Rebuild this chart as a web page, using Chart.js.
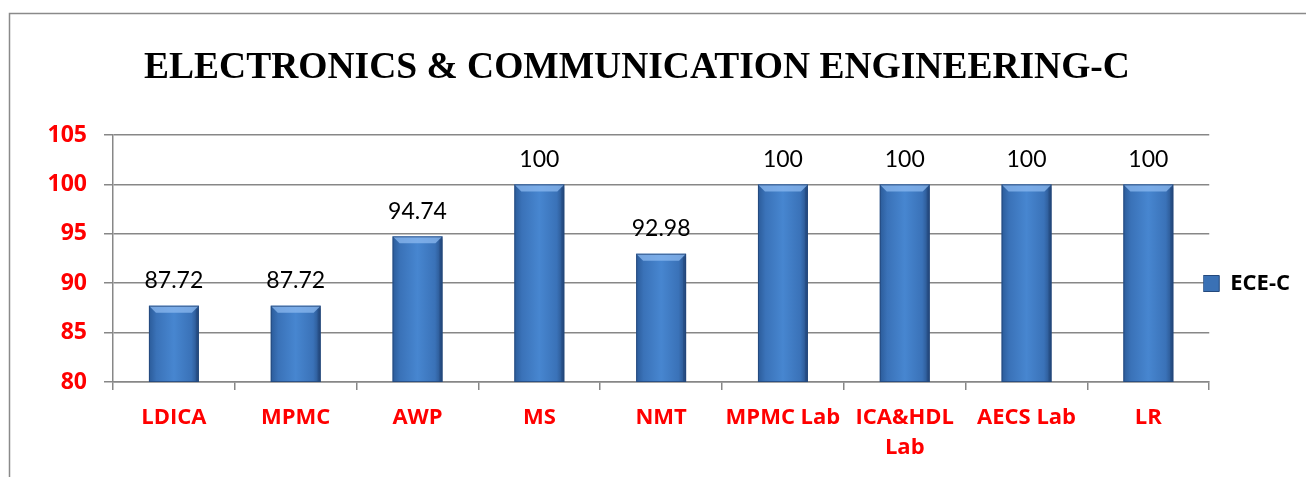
<!DOCTYPE html>
<html>
<head>
<meta charset="utf-8">
<script src="https://cdn.jsdelivr.net/npm/chart.js@4.4.1/dist/chart.umd.min.js"></script>
<style>
  html, body { margin: 0; padding: 0; background: #fff; }
  #wrap { width: 1306px; height: 477px; }
</style>
</head>
<body>
<div id="wrap"><canvas id="ece"></canvas></div>
<script>
// chart values
const subjects = ["LDICA", "MPMC", "AWP", "MS", "NMT", "MPMC Lab", ["ICA&HDL", "Lab"], "AECS Lab", "LR"];
const passPercent = [87.72, 87.72, 94.74, 100, 92.98, 100, 100, 100, 100];
const seriesName = "ECE-C";
const chartTitle = "ELECTRONICS & COMMUNICATION ENGINEERING-C";
const yMin = 80, yMax = 105, yStep = 5;

const gridGray = "#878787";
const labelFont = "Open Sans";

// white page + outer frame
const framePlugin = {
  id: "frame",
  beforeDraw(chart) {
    const c = chart.ctx;
    c.save();
    c.fillStyle = "#fff";
    c.fillRect(0, 0, chart.width, chart.height);
    c.strokeStyle = "#8a8a8a";
    c.lineWidth = 1.5;
    c.strokeRect(9.5, 13.5, chart.width + 20, chart.height + 20);
    c.restore();
  }
};

// bevel shading over the plain bars
const bevelPlugin = {
  id: "bevel",
  afterDatasetsDraw(chart) {
    const c = chart.ctx;
    const area = chart.chartArea;
    chart.getDatasetMeta(0).data.forEach(bar => {
      const w = bar.width, l = bar.x - w / 2, r = bar.x + w / 2, t = bar.y;
      const b = Math.min(bar.base, area.bottom);
      const g = c.createLinearGradient(l, 0, r, 0);
      g.addColorStop(0, "#2b5b99");
      g.addColorStop(0.15, "#3a72b8");
      g.addColorStop(0.5, "#4786d0");
      g.addColorStop(0.85, "#3a72b8");
      g.addColorStop(1, "#274f86");
      c.save();
      c.fillStyle = g;
      c.fillRect(l, t, w, b - t);
      // top bevel
      const bv = 7;
      c.fillStyle = "rgba(140,185,240,0.75)";
      c.beginPath();
      c.moveTo(l, t); c.lineTo(r, t); c.lineTo(r - bv, t + bv); c.lineTo(l + bv, t + bv);
      c.closePath(); c.fill();
      // right edge shade
      c.fillStyle = "rgba(30,60,110,0.35)";
      c.fillRect(r - 3, t + 3, 3, b - t - 3);
      c.strokeStyle = "rgba(35,70,120,0.8)";
      c.lineWidth = 1;
      c.strokeRect(l + 0.5, t + 0.5, w - 1, b - t - 1);
      c.restore();
    });
  }
};

// value labels above bars
const valueLabels = {
  id: "valueLabels",
  afterDatasetsDraw(chart) {
    const c = chart.ctx;
    const meta = chart.getDatasetMeta(0);
    c.save();
    c.font = "23px Lato";
    c.fillStyle = "#000";
    c.textAlign = "center";
    c.textBaseline = "middle";
    meta.data.forEach((bar, i) => {
      c.fillText(String(passPercent[i]), bar.x, bar.y - 25);
    });
    c.restore();
  }
};

// nudge legend and title to where the original has them
const nudge = {
  id: "nudge",
  afterLayout(chart) {
    const lg = chart.legend;
    lg.left -= 6; lg.right -= 6;
    lg.top += 25; lg.bottom += 25;
    const tb = chart.titleBlock;
    tb.left -= 16; tb.right -= 16;
  }
};

new Chart(document.getElementById("ece"), {
  type: "bar",
  data: {
    labels: subjects,
    datasets: [{
      label: seriesName,
      data: passPercent,
      backgroundColor: "rgba(0,0,0,0)",
      borderWidth: 0,
      barPercentage: 0.41,
      categoryPercentage: 1
    }]
  },
  options: {
    responsive: true,
    maintainAspectRatio: false,
    animation: false,
    layout: { padding: { top: 0, right: 0, bottom: 0, left: 0 } },
    plugins: {
      title: {
        display: true,
        text: chartTitle,
        color: "#000",
        font: { family: "Liberation Serif", size: 37.5, weight: "bold" },
        padding: { top: 46, bottom: 44 }
      },
      legend: {
        display: true,
        position: "right",
        fullSize: false,
        labels: {
          boxWidth: 16,
          boxHeight: 16,
          padding: 0,
          color: "#000",
          font: { family: labelFont, size: 22, weight: "bold" },
          generateLabels: () => [{
            text: seriesName,
            fillStyle: "#3a71b5",
            strokeStyle: "#24497c",
            lineWidth: 1,
            fontColor: "#000"
          }]
        }
      },
      tooltip: { enabled: false }
    },
    scales: {
      x: {
        offset: true,
        grid: { display: true, offset: true, drawOnChartArea: false, color: gridGray, lineWidth: 1.5, tickLength: 8 },
        border: { display: true, color: gridGray, width: 1.5 },
        ticks: {
          color: "#ff0000",
          padding: 13,
          maxRotation: 0,
          autoSkip: false,
          font: { family: labelFont, size: 22, weight: "bold", lineHeight: 1.36 }
        },
        afterFit(s) { s.height = 95; }
      },
      y: {
        min: yMin,
        max: yMax,
        grid: { color: gridGray, lineWidth: 1.5, tickLength: 9 },
        border: { display: true, color: gridGray, width: 1.5 },
        ticks: {
          stepSize: yStep,
          color: "#ff0000",
          padding: 17,
          font: { family: labelFont, size: 23, weight: "bold" }
        },
        afterFit(s) { s.width = 113; }
      }
    }
  },
  plugins: [framePlugin, bevelPlugin, valueLabels, nudge]
});
</script>
</body>
</html>
